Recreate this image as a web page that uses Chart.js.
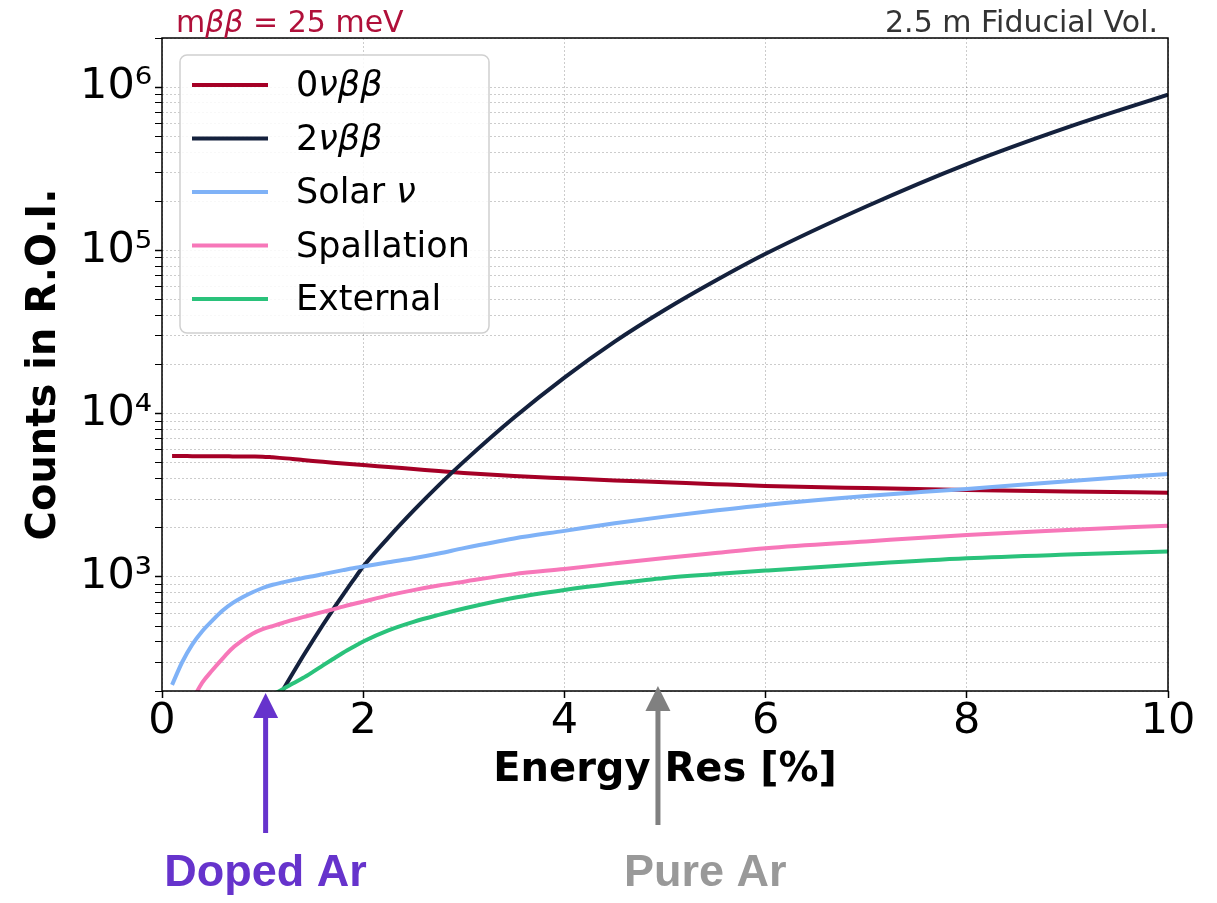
<!DOCTYPE html>
<html>
<head>
<meta charset="utf-8">
<title>Counts in R.O.I. vs Energy Resolution</title>
<script src="https://cdn.jsdelivr.net/npm/chart.js@4.4.1/dist/chart.umd.min.js"></script>
<style>
  html, body { margin: 0; padding: 0; background: #ffffff; }
  #wrap { width: 1217px; height: 903px; position: relative; }
</style>
</head>
<body>
<div id="wrap"><canvas id="roiChart"></canvas></div>
<script>
// Energy resolution grid [%] shared by every curve
const energyRes = [0.1, 0.2, 0.3, 0.4, 0.5, 0.6, 0.7, 0.8, 0.9, 1.0,
  1.1, 1.2, 1.3, 1.4, 1.5, 1.6, 1.7, 1.8, 1.9, 2.0,
  2.25, 2.5, 2.75, 3.0, 3.5, 4.0, 4.5, 5.0, 5.5, 6.0, 7.0, 8.0, 9.0, 10.0];

// Counts in the region of interest for each component
const zeroNuCounts = [5500, 5500, 5490, 5490, 5480, 5480, 5470, 5460, 5455, 5450,
  5400, 5340, 5280, 5200, 5130, 5070, 5010, 4950, 4900, 4850,
  4710, 4580, 4450, 4330, 4150, 4020, 3900, 3800, 3700, 3610, 3500, 3410, 3340, 3280];

const twoNuCounts = [null, null, null, null, null, null, null, null, null, null,
  157, 202, 257, 325, 408, 509, 631, 776, 951, 1157,
  1742, 2547, 3639, 5082, 9462, 16630, 27600, 43250, 65100, 95300, 185800, 338000, 567000, 900000];

const solarCounts = [218, 300, 385, 465, 540, 620, 690, 750, 805, 855,
  895, 925, 955, 985, 1010, 1040, 1070, 1100, 1130, 1157,
  1230, 1300, 1390, 1500, 1720, 1914, 2130, 2340, 2550, 2760, 3130, 3460, 3860, 4270];

const spallationCounts = [null, null, 175, 225, 268, 315, 365, 408, 448, 478,
  500, 522, 545, 567, 588, 610, 633, 658, 682, 706,
  770, 830, 885, 935, 1040, 1119, 1210, 1305, 1400, 1499, 1650, 1807, 1935, 2060];

const externalCounts = [null, null, null, null, null, null, null, null, null, null,
  190, 205, 222, 240, 262, 287, 314, 343, 372, 402,
  470, 530, 585, 640, 745, 832, 910, 985, 1040, 1093, 1200, 1301, 1370, 1429];

const seriesNames = ['0νββ', '2νββ', 'Solar ν', 'Spallation', 'External'];

// Axis ticks
const xTicks = [0, 2, 4, 6, 8, 10];
const yMajorTicks = [1e3, 1e4, 1e5, 1e6];
const yMajorLabels = ['10³', '10⁴', '10⁵', '10⁶'];

// Header notes and the resolution markers under the x axis
const headerLeft = 'mββ = 25 meV';
const headerRight = '2.5 m Fiducial Vol.';
const markerNames = ['Doped Ar', 'Pure Ar'];
const markerRes = [1.03, 4.93];
const markerTextRes = [1.03, 5.4];

const FONT = '"DejaVu Sans", sans-serif';
const seriesColors = ['#a50026', '#14213d', '#7fb2f7', '#f777b9', '#2ac27b'];
const markerColors = ['#6633cc', '#808080'];
const markerTextColors = ['#6633cc', '#999999'];

// minor + major gridline positions for the log axis
const yGridValues = [];
for (let e = 2; e <= 6; e++) {
  for (let m = 1; m <= 9; m++) {
    const v = m * Math.pow(10, e);
    if (v >= 200 && v <= 2e6) yGridValues.push(v);
  }
}

function toPoints(values) {
  return energyRes.map((x, i) => ({ x: x, y: values[i] }));
}

// greek letters are set in italic, like math text
function splitRuns(text) {
  return text.split(/([\u0370-\u03ff]+)/).filter(s => s).map(s => ({
    text: s,
    italic: /[\u0370-\u03ff]/.test(s)
  }));
}

function drawRichText(ctx, text, x, y, size, align) {
  const runs = splitRuns(text);
  const fontFor = r => `${r.italic ? 'italic ' : ''}normal ${size}px ${FONT}`;
  let total = 0;
  runs.forEach(r => {
    ctx.font = fontFor(r);
    r.w = ctx.measureText(r.text).width;
    total += r.w;
  });
  let cx = align === 'right' ? x - total : align === 'center' ? x - total / 2 : x;
  ctx.textAlign = 'left';
  runs.forEach(r => {
    ctx.font = fontFor(r);
    ctx.fillText(r.text, cx, y);
    cx += r.w;
  });
}

function roundedRect(ctx, x, y, w, h, r) {
  ctx.beginPath();
  ctx.moveTo(x + r, y);
  ctx.lineTo(x + w - r, y);
  ctx.arcTo(x + w, y, x + w, y + r, r);
  ctx.lineTo(x + w, y + h - r);
  ctx.arcTo(x + w, y + h, x + w - r, y + h, r);
  ctx.lineTo(x + r, y + h);
  ctx.arcTo(x, y + h, x, y + h - r, r);
  ctx.lineTo(x, y + r);
  ctx.arcTo(x, y, x + r, y, r);
  ctx.closePath();
}

const decorations = {
  id: 'decorations',
  afterDraw(chart) {
    const { ctx, chartArea: area } = chart;
    const xScale = chart.scales.x;
    ctx.save();

    // axes frame
    ctx.strokeStyle = '#000';
    ctx.lineWidth = 1.5;
    ctx.strokeRect(area.left, area.top, area.right - area.left, area.bottom - area.top);

    // header notes
    ctx.textBaseline = 'alphabetic';
    ctx.fillStyle = '#b0103a';
    drawRichText(ctx, headerLeft, area.left + 14, 32, 30, 'left');
    ctx.fillStyle = '#333333';
    drawRichText(ctx, headerRight, area.right - 10, 32, 30, 'right');

    // legend box
    const bx = area.left + 18, by = area.top + 17, bw = 309, bh = 278;
    roundedRect(ctx, bx, by, bw, bh, 7);
    ctx.fillStyle = 'rgba(255,255,255,0.85)';
    ctx.fill();
    ctx.strokeStyle = '#d0d0d0';
    ctx.lineWidth = 1.5;
    ctx.stroke();

    ctx.textBaseline = 'middle';
    chart.data.datasets.forEach((ds, i) => {
      const rowY = by + 30 + i * 53.5;
      ctx.strokeStyle = ds.borderColor;
      ctx.lineWidth = ds.borderWidth;
      ctx.beginPath();
      ctx.moveTo(bx + 12, rowY);
      ctx.lineTo(bx + 88, rowY);
      ctx.stroke();
      ctx.fillStyle = '#000';
      drawRichText(ctx, ds.label, bx + 116, rowY + 2, 35, 'left');
    });

    // resolution markers below the axis
    markerNames.forEach((name, i) => {
      const px = xScale.getPixelForValue(markerRes[i]);
      const tipY = i === 0 ? area.bottom + 2 : area.bottom - 5;
      const baseY = i === 0 ? 833 : 825;
      ctx.strokeStyle = markerColors[i];
      ctx.fillStyle = markerColors[i];
      ctx.lineWidth = 5;
      ctx.beginPath();
      ctx.moveTo(px, baseY);
      ctx.lineTo(px, tipY + 20);
      ctx.stroke();
      ctx.beginPath();
      ctx.moveTo(px, tipY);
      ctx.lineTo(px - 12.5, tipY + 25);
      ctx.lineTo(px + 12.5, tipY + 25);
      ctx.closePath();
      ctx.fill();

      ctx.fillStyle = markerTextColors[i];
      ctx.textAlign = 'center';
      ctx.textBaseline = 'alphabetic';
      ctx.font = 'bold 45px "Liberation Sans", Arial, sans-serif';
      ctx.fillText(name, xScale.getPixelForValue(markerTextRes[i]), 886);
    });

    ctx.restore();
  }
};

function createChart() {
  const ctx = document.getElementById('roiChart').getContext('2d');
  const allCounts = [zeroNuCounts, twoNuCounts, solarCounts, spallationCounts, externalCounts];

  const datasets = allCounts.map((counts, i) => ({
    label: seriesNames[i],
    data: toPoints(counts),
    borderColor: seriesColors[i],
    backgroundColor: seriesColors[i],
    borderWidth: 4,
    pointRadius: 0,
    cubicInterpolationMode: 'monotone',
    fill: false,
    clip: 0,
    order: 5 - i
  }));

  const gridStyle = {
    color: 'rgba(0,0,0,0.2)',
    lineWidth: 1,
    tickColor: '#000',
    tickLength: 7,
    tickWidth: 1.5,
    tickBorderDash: []
  };

  new Chart(ctx, {
    type: 'line',
    data: { datasets: datasets },
    options: {
      responsive: true,
      maintainAspectRatio: false,
      animation: false,
      layout: { padding: { top: 38, right: 49, left: 0, bottom: 0 } },
      plugins: {
        legend: { display: false },
        tooltip: { enabled: false }
      },
      scales: {
        x: {
          type: 'linear',
          min: 0,
          max: 10,
          afterBuildTicks: scale => { scale.ticks = xTicks.map(v => ({ value: v })); },
          afterFit: scale => { scale.height = 212; },
          ticks: {
            color: '#000',
            font: { family: FONT, size: 43, lineHeight: 1 },
            padding: 2,
            maxRotation: 0,
            autoSkip: false
          },
          grid: gridStyle,
          border: { display: false, dash: [2, 2] },
          title: {
            display: true,
            text: 'Energy Res [%]',
            color: '#000',
            font: { family: FONT, size: 40, weight: 'bold', lineHeight: 1 },
            padding: { top: 0, bottom: 112 }
          }
        },
        y: {
          type: 'logarithmic',
          min: 200,
          max: 2e6,
          afterBuildTicks: scale => { scale.ticks = yGridValues.map(v => ({ value: v })); },
          afterFit: scale => { scale.width = 162; },
          ticks: {
            color: '#000',
            font: { family: FONT, size: 43, lineHeight: 1 },
            padding: 3,
            autoSkip: false,
            callback: value => {
              const idx = yMajorTicks.indexOf(value);
              return idx >= 0 ? yMajorLabels[idx] : '';
            }
          },
          grid: Object.assign({}, gridStyle, {
            tickWidth: c => (c.tick && yMajorTicks.includes(c.tick.value) ? 1.5 : 1)
          }),
          border: { display: false, dash: [2, 2] },
          title: {
            display: true,
            text: 'Counts in R.O.I.',
            color: '#000',
            font: { family: FONT, size: 40, weight: 'bold', lineHeight: 1 },
            padding: { top: 25, bottom: 0 }
          }
        }
      }
    },
    plugins: [decorations]
  });
}

createChart();
</script>
</body>
</html>
